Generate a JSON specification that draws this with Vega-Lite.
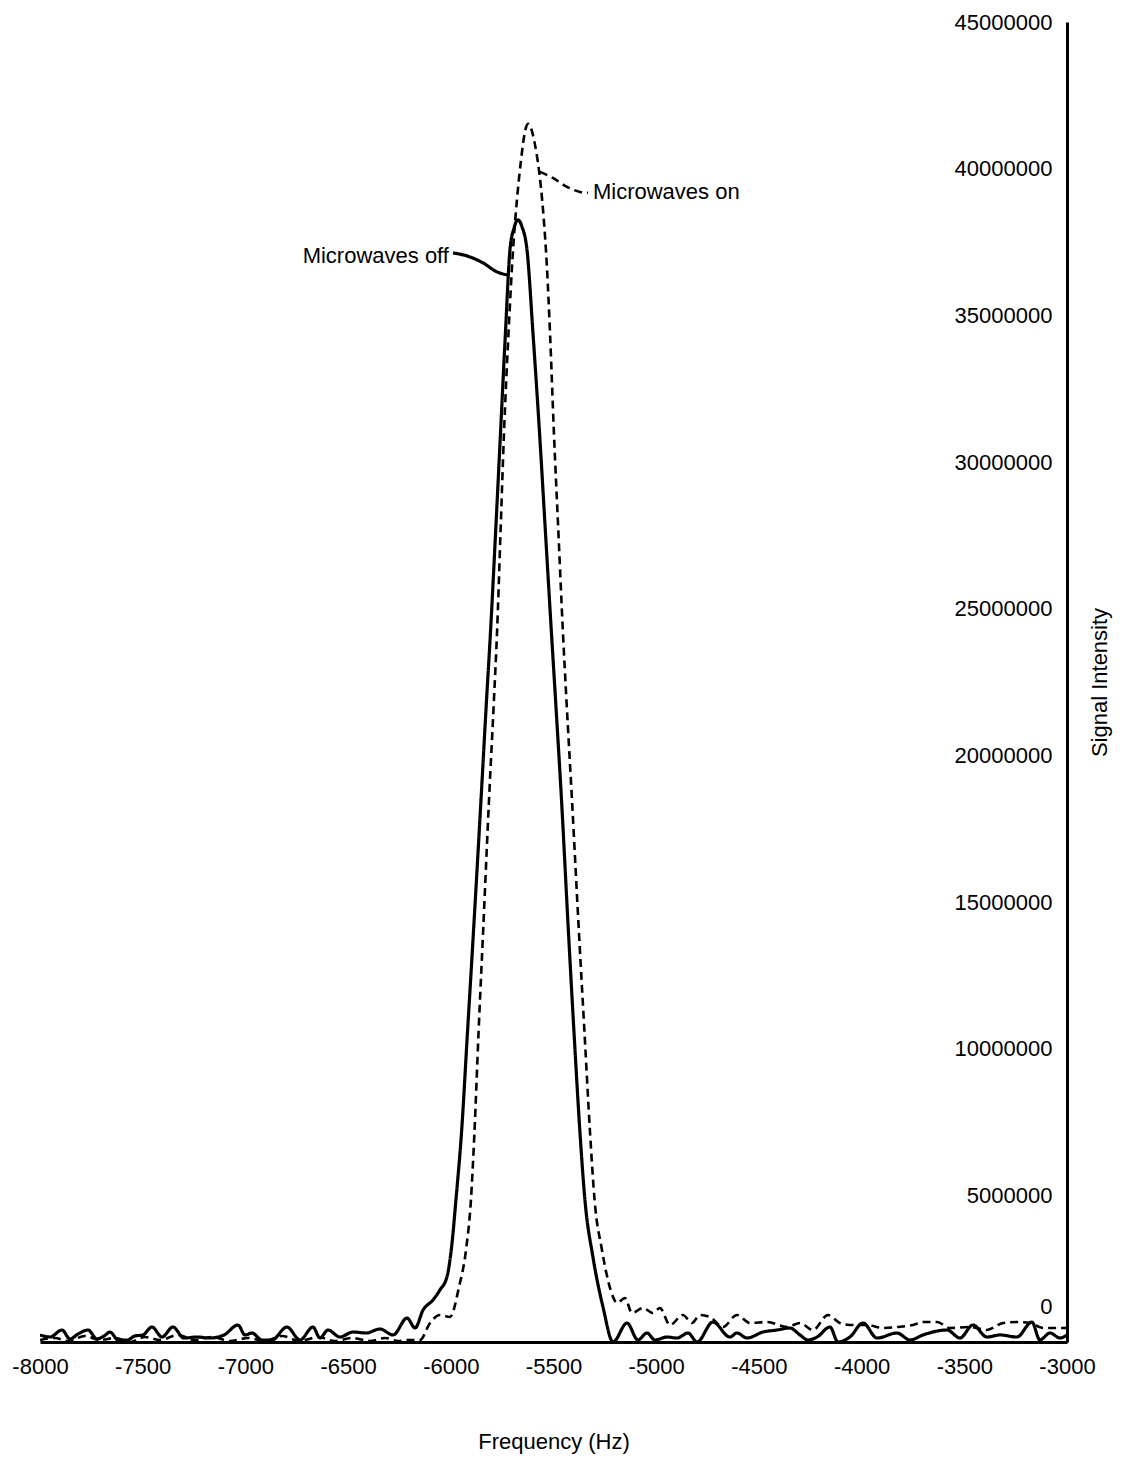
{
  "$schema": "https://vega.github.io/schema/vega-lite/v6.json",
  "width": 1027,
  "height": 1320,
  "autosize": {"type": "none"},
  "padding": {"left": 40, "top": 22, "right": 59, "bottom": 127},
  "background": "white",
  "config": {
    "view": {"stroke": null},
    "font": "Liberation Sans, Arial, sans-serif",
    "axis": {
      "labelFont": "Liberation Sans, Arial, sans-serif",
      "titleFont": "Liberation Sans, Arial, sans-serif",
      "labelFontSize": 22,
      "titleFontSize": 22,
      "titleFontWeight": "normal",
      "labelColor": "black",
      "titleColor": "black",
      "domainColor": "black",
      "domainWidth": 3,
      "ticks": false,
      "tickSize": 0,
      "grid": false,
      "labelFlush": false,
      "labelOverlap": false,
      "labelExpr": "toString(datum.value)"
    }
  },
  "datasets": {
    "curves": [
      {"f": -8000, "v": 240000, "s": "Microwaves off"},
      {"f": -7951, "v": 170000, "s": "Microwaves off"},
      {"f": -7893, "v": 409000, "s": "Microwaves off"},
      {"f": -7854, "v": 102000, "s": "Microwaves off"},
      {"f": -7815, "v": 273000, "s": "Microwaves off"},
      {"f": -7766, "v": 409000, "s": "Microwaves off"},
      {"f": -7723, "v": 102000, "s": "Microwaves off"},
      {"f": -7688, "v": 205000, "s": "Microwaves off"},
      {"f": -7659, "v": 341000, "s": "Microwaves off"},
      {"f": -7620, "v": 68000, "s": "Microwaves off"},
      {"f": -7576, "v": 68000, "s": "Microwaves off"},
      {"f": -7538, "v": 205000, "s": "Microwaves off"},
      {"f": -7499, "v": 240000, "s": "Microwaves off"},
      {"f": -7455, "v": 511000, "s": "Microwaves off"},
      {"f": -7406, "v": 170000, "s": "Microwaves off"},
      {"f": -7353, "v": 511000, "s": "Microwaves off"},
      {"f": -7299, "v": 136000, "s": "Microwaves off"},
      {"f": -7236, "v": 170000, "s": "Microwaves off"},
      {"f": -7172, "v": 136000, "s": "Microwaves off"},
      {"f": -7104, "v": 240000, "s": "Microwaves off"},
      {"f": -7036, "v": 580000, "s": "Microwaves off"},
      {"f": -7002, "v": 240000, "s": "Microwaves off"},
      {"f": -6968, "v": 307000, "s": "Microwaves off"},
      {"f": -6919, "v": 68000, "s": "Microwaves off"},
      {"f": -6871, "v": 68000, "s": "Microwaves off"},
      {"f": -6798, "v": 511000, "s": "Microwaves off"},
      {"f": -6734, "v": 68000, "s": "Microwaves off"},
      {"f": -6671, "v": 511000, "s": "Microwaves off"},
      {"f": -6637, "v": 136000, "s": "Microwaves off"},
      {"f": -6598, "v": 409000, "s": "Microwaves off"},
      {"f": -6540, "v": 170000, "s": "Microwaves off"},
      {"f": -6476, "v": 341000, "s": "Microwaves off"},
      {"f": -6413, "v": 307000, "s": "Microwaves off"},
      {"f": -6345, "v": 443000, "s": "Microwaves off"},
      {"f": -6281, "v": 240000, "s": "Microwaves off"},
      {"f": -6213, "v": 818000, "s": "Microwaves off"},
      {"f": -6174, "v": 477000, "s": "Microwaves off"},
      {"f": -6135, "v": 1091000, "s": "Microwaves off"},
      {"f": -6087, "v": 1432000, "s": "Microwaves off"},
      {"f": -6053, "v": 1773000, "s": "Microwaves off"},
      {"f": -6019, "v": 2216000, "s": "Microwaves off"},
      {"f": -5994, "v": 3375000, "s": "Microwaves off"},
      {"f": -5975, "v": 4841000, "s": "Microwaves off"},
      {"f": -5948, "v": 7126000, "s": "Microwaves off"},
      {"f": -5919, "v": 10535000, "s": "Microwaves off"},
      {"f": -5890, "v": 13944000, "s": "Microwaves off"},
      {"f": -5853, "v": 18479000, "s": "Microwaves off"},
      {"f": -5826, "v": 21888000, "s": "Microwaves off"},
      {"f": -5807, "v": 24173000, "s": "Microwaves off"},
      {"f": -5782, "v": 27582000, "s": "Microwaves off"},
      {"f": -5758, "v": 30991000, "s": "Microwaves off"},
      {"f": -5734, "v": 34401000, "s": "Microwaves off"},
      {"f": -5712, "v": 37231000, "s": "Microwaves off"},
      {"f": -5692, "v": 37981000, "s": "Microwaves off"},
      {"f": -5673, "v": 38254000, "s": "Microwaves off"},
      {"f": -5653, "v": 38015000, "s": "Microwaves off"},
      {"f": -5629, "v": 37231000, "s": "Microwaves off"},
      {"f": -5600, "v": 34401000, "s": "Microwaves off"},
      {"f": -5568, "v": 30991000, "s": "Microwaves off"},
      {"f": -5539, "v": 27582000, "s": "Microwaves off"},
      {"f": -5510, "v": 24173000, "s": "Microwaves off"},
      {"f": -5490, "v": 21888000, "s": "Microwaves off"},
      {"f": -5461, "v": 18479000, "s": "Microwaves off"},
      {"f": -5427, "v": 13944000, "s": "Microwaves off"},
      {"f": -5400, "v": 10535000, "s": "Microwaves off"},
      {"f": -5371, "v": 7126000, "s": "Microwaves off"},
      {"f": -5347, "v": 4841000, "s": "Microwaves off"},
      {"f": -5308, "v": 2898000, "s": "Microwaves off"},
      {"f": -5259, "v": 1193000, "s": "Microwaves off"},
      {"f": -5210, "v": 0, "s": "Microwaves off"},
      {"f": -5142, "v": 648000, "s": "Microwaves off"},
      {"f": -5089, "v": 68000, "s": "Microwaves off"},
      {"f": -5045, "v": 307000, "s": "Microwaves off"},
      {"f": -5006, "v": 68000, "s": "Microwaves off"},
      {"f": -4947, "v": 170000, "s": "Microwaves off"},
      {"f": -4899, "v": 136000, "s": "Microwaves off"},
      {"f": -4845, "v": 307000, "s": "Microwaves off"},
      {"f": -4801, "v": 0, "s": "Microwaves off"},
      {"f": -4724, "v": 682000, "s": "Microwaves off"},
      {"f": -4641, "v": 170000, "s": "Microwaves off"},
      {"f": -4607, "v": 307000, "s": "Microwaves off"},
      {"f": -4558, "v": 136000, "s": "Microwaves off"},
      {"f": -4480, "v": 341000, "s": "Microwaves off"},
      {"f": -4412, "v": 409000, "s": "Microwaves off"},
      {"f": -4349, "v": 477000, "s": "Microwaves off"},
      {"f": -4300, "v": 240000, "s": "Microwaves off"},
      {"f": -4261, "v": 68000, "s": "Microwaves off"},
      {"f": -4217, "v": 170000, "s": "Microwaves off"},
      {"f": -4154, "v": 511000, "s": "Microwaves off"},
      {"f": -4115, "v": 0, "s": "Microwaves off"},
      {"f": -4057, "v": 170000, "s": "Microwaves off"},
      {"f": -3993, "v": 648000, "s": "Microwaves off"},
      {"f": -3925, "v": 136000, "s": "Microwaves off"},
      {"f": -3828, "v": 307000, "s": "Microwaves off"},
      {"f": -3764, "v": 68000, "s": "Microwaves off"},
      {"f": -3701, "v": 240000, "s": "Microwaves off"},
      {"f": -3584, "v": 409000, "s": "Microwaves off"},
      {"f": -3521, "v": 136000, "s": "Microwaves off"},
      {"f": -3458, "v": 580000, "s": "Microwaves off"},
      {"f": -3390, "v": 170000, "s": "Microwaves off"},
      {"f": -3326, "v": 240000, "s": "Microwaves off"},
      {"f": -3244, "v": 170000, "s": "Microwaves off"},
      {"f": -3171, "v": 682000, "s": "Microwaves off"},
      {"f": -3132, "v": 68000, "s": "Microwaves off"},
      {"f": -3083, "v": 307000, "s": "Microwaves off"},
      {"f": -3034, "v": 136000, "s": "Microwaves off"},
      {"f": -3000, "v": 240000, "s": "Microwaves off"},

      {"f": -8000, "v": 68000, "s": "Microwaves on"},
      {"f": -7927, "v": 136000, "s": "Microwaves on"},
      {"f": -7864, "v": 34000, "s": "Microwaves on"},
      {"f": -7781, "v": 205000, "s": "Microwaves on"},
      {"f": -7708, "v": 68000, "s": "Microwaves on"},
      {"f": -7635, "v": 136000, "s": "Microwaves on"},
      {"f": -7562, "v": 0, "s": "Microwaves on"},
      {"f": -7489, "v": 170000, "s": "Microwaves on"},
      {"f": -7416, "v": 68000, "s": "Microwaves on"},
      {"f": -7328, "v": 240000, "s": "Microwaves on"},
      {"f": -7245, "v": 68000, "s": "Microwaves on"},
      {"f": -7163, "v": 170000, "s": "Microwaves on"},
      {"f": -7075, "v": 34000, "s": "Microwaves on"},
      {"f": -6987, "v": 136000, "s": "Microwaves on"},
      {"f": -6905, "v": 34000, "s": "Microwaves on"},
      {"f": -6822, "v": 205000, "s": "Microwaves on"},
      {"f": -6734, "v": 34000, "s": "Microwaves on"},
      {"f": -6647, "v": 170000, "s": "Microwaves on"},
      {"f": -6564, "v": 34000, "s": "Microwaves on"},
      {"f": -6481, "v": 136000, "s": "Microwaves on"},
      {"f": -6393, "v": 34000, "s": "Microwaves on"},
      {"f": -6320, "v": 136000, "s": "Microwaves on"},
      {"f": -6257, "v": 34000, "s": "Microwaves on"},
      {"f": -6213, "v": 68000, "s": "Microwaves on"},
      {"f": -6150, "v": 68000, "s": "Microwaves on"},
      {"f": -6101, "v": 648000, "s": "Microwaves on"},
      {"f": -6053, "v": 921000, "s": "Microwaves on"},
      {"f": -6004, "v": 852000, "s": "Microwaves on"},
      {"f": -5960, "v": 1875000, "s": "Microwaves on"},
      {"f": -5926, "v": 3137000, "s": "Microwaves on"},
      {"f": -5902, "v": 4841000, "s": "Microwaves on"},
      {"f": -5885, "v": 7126000, "s": "Microwaves on"},
      {"f": -5865, "v": 10535000, "s": "Microwaves on"},
      {"f": -5843, "v": 13944000, "s": "Microwaves on"},
      {"f": -5814, "v": 18479000, "s": "Microwaves on"},
      {"f": -5790, "v": 21888000, "s": "Microwaves on"},
      {"f": -5775, "v": 24173000, "s": "Microwaves on"},
      {"f": -5758, "v": 27582000, "s": "Microwaves on"},
      {"f": -5741, "v": 30991000, "s": "Microwaves on"},
      {"f": -5719, "v": 34401000, "s": "Microwaves on"},
      {"f": -5697, "v": 37231000, "s": "Microwaves on"},
      {"f": -5678, "v": 38935000, "s": "Microwaves on"},
      {"f": -5658, "v": 40299000, "s": "Microwaves on"},
      {"f": -5639, "v": 41254000, "s": "Microwaves on"},
      {"f": -5624, "v": 41526000, "s": "Microwaves on"},
      {"f": -5610, "v": 41390000, "s": "Microwaves on"},
      {"f": -5590, "v": 40811000, "s": "Microwaves on"},
      {"f": -5571, "v": 39958000, "s": "Microwaves on"},
      {"f": -5549, "v": 38424000, "s": "Microwaves on"},
      {"f": -5532, "v": 36651000, "s": "Microwaves on"},
      {"f": -5517, "v": 34401000, "s": "Microwaves on"},
      {"f": -5498, "v": 30991000, "s": "Microwaves on"},
      {"f": -5476, "v": 27582000, "s": "Microwaves on"},
      {"f": -5454, "v": 24173000, "s": "Microwaves on"},
      {"f": -5437, "v": 21888000, "s": "Microwaves on"},
      {"f": -5410, "v": 18479000, "s": "Microwaves on"},
      {"f": -5376, "v": 13944000, "s": "Microwaves on"},
      {"f": -5349, "v": 10535000, "s": "Microwaves on"},
      {"f": -5322, "v": 7126000, "s": "Microwaves on"},
      {"f": -5300, "v": 4841000, "s": "Microwaves on"},
      {"f": -5264, "v": 3137000, "s": "Microwaves on"},
      {"f": -5235, "v": 2114000, "s": "Microwaves on"},
      {"f": -5210, "v": 1534000, "s": "Microwaves on"},
      {"f": -5191, "v": 1330000, "s": "Microwaves on"},
      {"f": -5152, "v": 1500000, "s": "Microwaves on"},
      {"f": -5118, "v": 989000, "s": "Microwaves on"},
      {"f": -5064, "v": 1159000, "s": "Microwaves on"},
      {"f": -5016, "v": 989000, "s": "Microwaves on"},
      {"f": -4982, "v": 1159000, "s": "Microwaves on"},
      {"f": -4933, "v": 580000, "s": "Microwaves on"},
      {"f": -4870, "v": 921000, "s": "Microwaves on"},
      {"f": -4826, "v": 648000, "s": "Microwaves on"},
      {"f": -4787, "v": 921000, "s": "Microwaves on"},
      {"f": -4738, "v": 852000, "s": "Microwaves on"},
      {"f": -4675, "v": 511000, "s": "Microwaves on"},
      {"f": -4607, "v": 921000, "s": "Microwaves on"},
      {"f": -4543, "v": 648000, "s": "Microwaves on"},
      {"f": -4461, "v": 682000, "s": "Microwaves on"},
      {"f": -4363, "v": 511000, "s": "Microwaves on"},
      {"f": -4300, "v": 648000, "s": "Microwaves on"},
      {"f": -4237, "v": 409000, "s": "Microwaves on"},
      {"f": -4164, "v": 921000, "s": "Microwaves on"},
      {"f": -4105, "v": 648000, "s": "Microwaves on"},
      {"f": -4057, "v": 580000, "s": "Microwaves on"},
      {"f": -3974, "v": 580000, "s": "Microwaves on"},
      {"f": -3896, "v": 477000, "s": "Microwaves on"},
      {"f": -3828, "v": 511000, "s": "Microwaves on"},
      {"f": -3750, "v": 580000, "s": "Microwaves on"},
      {"f": -3701, "v": 682000, "s": "Microwaves on"},
      {"f": -3633, "v": 682000, "s": "Microwaves on"},
      {"f": -3570, "v": 477000, "s": "Microwaves on"},
      {"f": -3472, "v": 511000, "s": "Microwaves on"},
      {"f": -3390, "v": 409000, "s": "Microwaves on"},
      {"f": -3312, "v": 648000, "s": "Microwaves on"},
      {"f": -3244, "v": 682000, "s": "Microwaves on"},
      {"f": -3180, "v": 648000, "s": "Microwaves on"},
      {"f": -3117, "v": 477000, "s": "Microwaves on"},
      {"f": -3049, "v": 477000, "s": "Microwaves on"},
      {"f": -3000, "v": 477000, "s": "Microwaves on"}
    ],
    "leaders": [
      {"f": -5566, "v": 39890000, "s": "Microwaves on"},
      {"f": -5503, "v": 39685000, "s": "Microwaves on"},
      {"f": -5434, "v": 39379000, "s": "Microwaves on"},
      {"f": -5371, "v": 39208000, "s": "Microwaves on"},
      {"f": -5332, "v": 39174000, "s": "Microwaves on"},
      {"f": -5989, "v": 37128000, "s": "Microwaves off"},
      {"f": -5907, "v": 36992000, "s": "Microwaves off"},
      {"f": -5843, "v": 36787000, "s": "Microwaves off"},
      {"f": -5775, "v": 36481000, "s": "Microwaves off"},
      {"f": -5726, "v": 36378000, "s": "Microwaves off"}
    ],
    "labels": [
      {"f": -5308, "v": 39208000, "t": "Microwaves on", "a": "left"},
      {"f": -6009, "v": 37025000, "t": "Microwaves off", "a": "right"}
    ]
  },
  "layer": [
    {
      "data": {"name": "curves"},
      "mark": {"type": "line", "color": "black", "interpolate": "monotone", "clip": true},
      "encoding": {
        "x": {
          "field": "f", "type": "quantitative",
          "scale": {"domain": [-8000, -3000], "nice": false, "zero": false},
          "axis": {
            "values": [-8000, -7500, -7000, -6500, -6000, -5500, -5000, -4500, -4000, -3500, -3000],
            "labelPadding": 14,
            "title": "Frequency (Hz)",
            "titlePadding": 54
          }
        },
        "y": {
          "field": "v", "type": "quantitative",
          "scale": {"domain": [0, 45000000], "nice": false},
          "axis": {
            "orient": "right",
            "values": [0, 5000000, 10000000, 15000000, 20000000, 25000000, 30000000, 35000000, 40000000, 45000000],
            "labelAlign": "right",
            "labelPadding": -15,
            "labelOffset": {"condition": {"test": "datum.value === 0", "value": -36}, "value": 0},
            "title": "Signal Intensity",
            "titleAngle": 270,
            "titleX": 32,
            "titleY": 660,
            "titleAlign": "center",
            "titleBaseline": "middle"
          }
        },
        "strokeDash": {
          "field": "s", "type": "nominal",
          "scale": {"domain": ["Microwaves off", "Microwaves on"], "range": [[1, 0], [8, 5]]},
          "legend": null
        },
        "strokeWidth": {
          "field": "s", "type": "nominal",
          "scale": {"domain": ["Microwaves off", "Microwaves on"], "range": [3.2, 2.6]},
          "legend": null
        }
      }
    },
    {
      "data": {"name": "leaders"},
      "mark": {"type": "line", "color": "black", "interpolate": "monotone"},
      "encoding": {
        "x": {"field": "f", "type": "quantitative"},
        "y": {"field": "v", "type": "quantitative"},
        "detail": {"field": "s"},
        "strokeDash": {
          "field": "s", "type": "nominal",
          "scale": {"domain": ["Microwaves off", "Microwaves on"], "range": [[1, 0], [8, 5]]},
          "legend": null
        },
        "strokeWidth": {
          "field": "s", "type": "nominal",
          "scale": {"domain": ["Microwaves off", "Microwaves on"], "range": [3.2, 2.6]},
          "legend": null
        }
      }
    },
    {
      "data": {"name": "labels"},
      "transform": [{"filter": "datum.a === 'left'"}],
      "mark": {"type": "text", "fontSize": 22, "color": "black", "baseline": "middle", "align": "left", "font": "Liberation Sans, Arial, sans-serif"},
      "encoding": {
        "x": {"field": "f", "type": "quantitative"},
        "y": {"field": "v", "type": "quantitative"},
        "text": {"field": "t"}
      }
    },
    {
      "data": {"name": "labels"},
      "transform": [{"filter": "datum.a === 'right'"}],
      "mark": {"type": "text", "fontSize": 22, "color": "black", "baseline": "middle", "align": "right", "font": "Liberation Sans, Arial, sans-serif"},
      "encoding": {
        "x": {"field": "f", "type": "quantitative"},
        "y": {"field": "v", "type": "quantitative"},
        "text": {"field": "t"}
      }
    }
  ]
}
